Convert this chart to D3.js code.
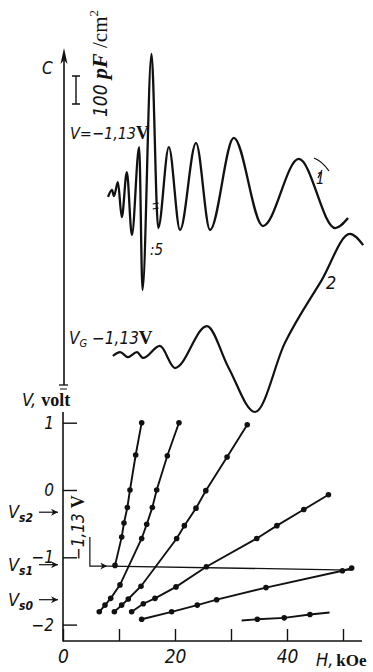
<!DOCTYPE html>
<html><head><meta charset="utf-8">
<script src="https://cdn.jsdelivr.net/npm/d3@7"></script>
<style>
body{margin:0;background:#fff}
svg{display:block}
.n{font-family:"Liberation Sans Narrow","DejaVu Sans Condensed","Liberation Sans",sans-serif;font-style:italic;font-stretch:condensed}
.b{font-family:"Liberation Serif","DejaVu Serif",serif;font-weight:bold;font-style:normal}
.bi{font-family:"Liberation Serif","DejaVu Serif",serif;font-weight:bold;font-style:italic}
.r{font-family:"Liberation Serif","DejaVu Serif",serif;font-style:normal}
</style>
</head><body>
<svg id="c" width="373" height="672"></svg>
<script>
// ---- data ----
const hTicks = [0, 10, 20, 30, 40, 50];
const hTickLabels = ["0", "", "20", "", "40", ""];
const vTicks = [1, 0, -1, -2];
// curve 1: C(H) at V=-1,13 V, pF/cm2 (arbitrary origin)
const curve1 = [[8.04,368],[8.75,393],[9.1,371],[9.8,421],[10.5,296],[11.4,457],[12.3,232],[13.6,546],[14.2,36],[15.8,879],[17.0,257],[18.9,546],[20.9,250],[23.75,561],[26.25,250],[30.5,579],[35.7,264],[42.1,504],[48.6,257],[50.9,293]];
// curve 2: C(H) at V_G -1,13 V
const curve2 = [[8.9,-200],[10.2,-186],[11.6,-204],[13.2,-186],[14.3,-207],[17.3,-164],[20.0,-243],[25.7,-93],[29.5,-239],[34.3,-400],[39.6,-154],[46.2,71],[51.25,236],[53.6,196]];
// V(H) lines of the fan, [H kOe, V volt]
const lineA = [[9.29,-1.12],[10.48,-0.70],[10.89,-0.49],[11.49,-0.26],[11.96,0.0],[12.98,0.52],[14.05,1.0]];
const lineB = [[6.48,-1.81],[7.5,-1.71],[8.52,-1.61],[10.18,-1.41],[14.05,-0.72],[14.95,-0.51],[15.95,-0.26],[16.73,0.0],[18.63,0.51],[20.71,1.0]];
const lineC = [[9.17,-1.81],[10.48,-1.71],[11.66,-1.62],[13.93,-1.43],[20.3,-0.72],[21.67,-0.53],[23.75,-0.27],[25.5,-0.01],[29.3,0.49],[32.9,0.97]];
const lineD = [[12.26,-1.81],[14.34,-1.69],[16.43,-1.61],[20.18,-1.44],[25.6,-1.14],[34.6,-0.72],[38.2,-0.53],[43.0,-0.29],[47.4,-0.07]];
const lineE = [[14.05,-1.92],[19.4,-1.81],[23.98,-1.71],[27.44,-1.63],[36.25,-1.45],[49.9,-1.20],[51.55,-1.16]];
const lineF = [[31.9,-1.94],[34.7,-1.92],[39.5,-1.90],[44.1,-1.85],[47.6,-1.82]];
const lineFDots = [[34.7,-1.92],[39.5,-1.90],[44.1,-1.85]];
const levelLine = [[7.9,-1.13],[51.55,-1.19]];
const levelBracket = [[4.8,-0.70],[4.8,-1.13],[7.9,-1.13]];
const vsNames = ["s2","s1","s0"];
const vsValues = [-0.33,-1.11,-1.63];
const scaleBar = [700,800];

// ---- chart ----
const svg = d3.select("#c");
const ink = "#111";
const x = d3.scaleLinear().domain([0,50]).range([63,343]);
const yV = d3.scaleLinear().domain([-2,1]).range([624.6,422.7]);
const yC = d3.scaleLinear().domain([0,100]).range([300,272]);

const defs = svg.append("defs");
defs.append("marker").attr("id","ah").attr("viewBox","0 0 10 10").attr("refX",10).attr("refY",5)
  .attr("markerWidth",9).attr("markerHeight",7).attr("markerUnits","userSpaceOnUse").attr("orient","auto")
  .append("path").attr("d","M0,0L10,5L0,10L3,5Z").attr("fill",ink);

// C axis (top)
svg.append("line").attr("x1",x(0)+1).attr("x2",x(0)+1).attr("y1",58).attr("y2",385).attr("stroke",ink).attr("stroke-width",1.6);
svg.append("path").attr("d",`M${x(0)+1},48L${x(0)-2.5},64L${x(0)+1},60L${x(0)+4.5},64Z`).attr("fill",ink);
svg.append("line").attr("x1",x(0)-4).attr("x2",x(0)+5).attr("y1",385).attr("y2",385).attr("stroke",ink).attr("stroke-width",1.3);
svg.append("line").attr("x1",x(0)-3).attr("x2",x(0)+4).attr("y1",389).attr("y2",389).attr("stroke",ink).attr("stroke-width",1);
svg.append("text").attr("class","n").attr("x",42).attr("y",74).attr("font-size",17).attr("fill",ink).text("C");

// scale bar
const sbx = 76;
svg.append("path").attr("d",`M${sbx},${yC(scaleBar[1])}V${yC(scaleBar[0])}M${sbx-4},${yC(scaleBar[1])}H${sbx+4}M${sbx-4},${yC(scaleBar[0])}H${sbx+4}`)
  .attr("stroke",ink).attr("stroke-width",1.4).attr("fill","none");
const st = svg.append("text").attr("transform","translate(107,117) rotate(-90)").attr("fill",ink);
st.append("tspan").attr("class","n").attr("font-size",19).text("100 ");
st.append("tspan").attr("class","bi").attr("font-size",22).text("pF");
st.append("tspan").attr("class","r").attr("font-size",21).text(" /cm");
st.append("tspan").attr("class","r").attr("font-size",13).attr("dy",-9).text("2");

// curves
const lineC_ = d3.line().x(d=>x(d[0])).y(d=>yC(d[1])).curve(d3.curveMonotoneX);
svg.append("path").datum(curve1).attr("d",lineC_).attr("fill","none").attr("stroke",ink).attr("stroke-width",2.3).attr("stroke-linejoin","round");
svg.append("path").datum(curve2).attr("d",lineC_).attr("fill","none").attr("stroke",ink).attr("stroke-width",2.2).attr("stroke-linejoin","round");
// scale-change marks on curve 1
const bx = x(16.55);
svg.append("path").attr("d",`M${bx-3},204L${bx+3},203M${bx-3},209L${bx+3},208`).attr("stroke",ink).attr("stroke-width",1.2);

// labels on top part
const t1 = svg.append("text").attr("x",70).attr("y",139).attr("fill",ink);
t1.append("tspan").attr("class","n").attr("font-size",16).text("V=−1,13");
t1.append("tspan").attr("class","b").attr("font-size",18).text("V");
svg.append("text").attr("class","n").attr("x",150).attr("y",255).attr("font-size",15).attr("fill",ink).text(":5");
svg.append("path").attr("d","M314,158Q322,161 329,171M322,170L318,178").attr("stroke",ink).attr("stroke-width",1.3).attr("fill","none");
svg.append("text").attr("class","n").attr("x",316).attr("y",184).attr("font-size",15).attr("fill",ink).text("1");
svg.append("text").attr("class","n").attr("x",326).attr("y",289).attr("font-size",18).attr("fill",ink).text("2");
const t2 = svg.append("text").attr("x",69).attr("y",344).attr("fill",ink);
t2.append("tspan").attr("class","n").attr("font-size",17).text("V");
t2.append("tspan").attr("class","n").attr("font-size",11).attr("dy",3).text("G");
t2.append("tspan").attr("class","n").attr("font-size",17).attr("dy",-3).text(" −1,13");
t2.append("tspan").attr("class","b").attr("font-size",19).text("V");

// V axis
svg.append("line").attr("x1",x(0)).attr("x2",x(0)).attr("y1",412).attr("y2",641.5).attr("stroke",ink).attr("stroke-width",1.6);
const gV = svg.append("g").attr("transform",`translate(${x(0)},0)`)
  .call(d3.axisLeft(yV).tickValues(vTicks).tickSize(-14).tickPadding(9).tickFormat(d3.format("d")));
gV.select(".domain").remove();
gV.selectAll("line").attr("stroke",ink).attr("stroke-width",1.4);
gV.selectAll("text").attr("class","n").attr("font-size",17).attr("fill",ink);

const gH = svg.append("g").attr("transform","translate(0,641)")
  .call(d3.axisBottom(x).tickValues(hTicks).tickSize(-12).tickPadding(9).tickFormat((d,i)=>hTickLabels[i]));
gH.select(".domain").remove();
gH.selectAll("line").attr("stroke",ink).attr("stroke-width",1.4);
gH.selectAll("text").attr("class","n").attr("font-size",19).attr("fill",ink);
svg.append("line").attr("x1",x(0)).attr("x2",x(53.4)).attr("y1",641).attr("y2",641).attr("stroke",ink).attr("stroke-width",1.6);

// axis titles
const tv = svg.append("text").attr("x",22).attr("y",406).attr("fill",ink);
tv.append("tspan").attr("class","n").attr("font-size",18).text("V, ");
tv.append("tspan").attr("class","b").attr("font-size",18).text("volt");
const th = svg.append("text").attr("x",316).attr("y",666).attr("fill",ink);
th.append("tspan").attr("class","n").attr("font-size",18).text("H,");
th.append("tspan").attr("class","b").attr("font-size",17).attr("dx",3).text("kOe");

// Vs labels
vsNames.forEach((nm,i)=>{
  const yy = yV(vsValues[i]);
  const t = svg.append("text").attr("x",8).attr("y",yy+6).attr("fill",ink);
  t.append("tspan").attr("class","n").attr("font-size",18).text("V");
  t.append("tspan").attr("class","n").attr("font-size",12).attr("font-weight","bold").attr("dy",4).text(nm);
  svg.append("line").attr("x1",39).attr("x2",58).attr("y1",yy).attr("y2",yy).attr("stroke",ink).attr("stroke-width",1.2).attr("marker-end","url(#ah)");
});

// -1,13 V level
const lv = d3.line().x(d=>x(d[0])).y(d=>yV(d[1]));
svg.append("path").datum(levelBracket).attr("d",lv).attr("fill","none").attr("stroke",ink).attr("stroke-width",1.2).attr("marker-end","url(#ah)");
svg.append("path").datum(levelLine).attr("d",lv).attr("fill","none").attr("stroke",ink).attr("stroke-width",1.3);
const tr = svg.append("text").attr("transform",`translate(84,${yV(-1.13)-6}) rotate(-90)`).attr("fill",ink);
tr.append("tspan").attr("class","n").attr("font-size",17).text("−1,13 ");
tr.append("tspan").attr("class","b").attr("font-size",18).text("V");

// fan lines
[lineA,lineB,lineC,lineD,lineE,lineF].forEach(L=>{
  svg.append("path").datum(L).attr("d",lv).attr("fill","none").attr("stroke",ink).attr("stroke-width",1.9);
});
[lineA,lineB,lineC,lineD,lineE,lineFDots].forEach(L=>{
  svg.append("g").selectAll("circle").data(L).join("circle")
    .attr("cx",d=>x(d[0])).attr("cy",d=>yV(d[1])).attr("r",2.8).attr("fill",ink);
});
</script>
</body></html>
